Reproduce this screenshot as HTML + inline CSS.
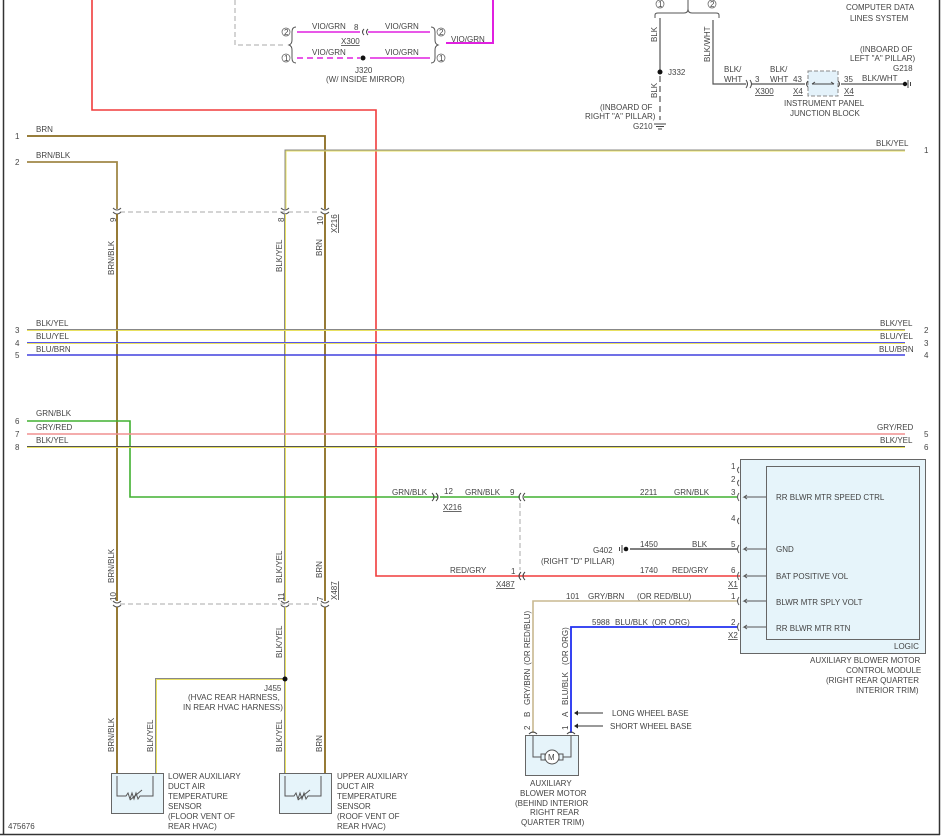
<!DOCTYPE html>
<html><head><meta charset="utf-8"><style>
html,body{margin:0;padding:0;background:#fff}
svg{display:block}
text{font-family:"Liberation Sans",sans-serif;font-size:8px;fill:#444}
</style></head><body>
<svg width="946" height="838" viewBox="0 0 946 838" xmlns="http://www.w3.org/2000/svg">
<rect width="946" height="838" fill="#fff"/>
<!-- borders -->
<line x1="3.5" y1="0" x2="3.5" y2="835" stroke="#333" stroke-width="1.5"/>
<line x1="0" y1="834.5" x2="940" y2="834.5" stroke="#333" stroke-width="1.5"/>
<line x1="939.5" y1="0" x2="939.5" y2="835" stroke="#333" stroke-width="1.5"/>

<!-- red wire -->
<polyline points="92,0 92,110 376,110 376,576 740,576" fill="none" stroke="#f03c3c" stroke-width="1.6"/>

<!-- magenta top -->
<polyline points="493,0 493,43 446,43" fill="none" stroke="#e020e0" stroke-width="2"/>
<line x1="297" y1="32" x2="360" y2="32" stroke="#e020e0" stroke-width="1.6"/>
<line x1="368" y1="32" x2="430" y2="32" stroke="#e020e0" stroke-width="1.6"/>
<line x1="297" y1="58" x2="360" y2="58" stroke="#e020e0" stroke-width="1.6" stroke-dasharray="6,4"/>
<line x1="370" y1="58" x2="430" y2="58" stroke="#e020e0" stroke-width="1.6"/>
<circle cx="363" cy="58" r="2.5" fill="#111"/>
<path d="M364,29 q-3,3 0,6 M368,29 q-3,3 0,6" fill="none" stroke="#444"/>
<polyline points="235,0 235,45 285,45" fill="none" stroke="#aaa" stroke-dasharray="5,3"/>
<path d="M296,27 q-4,0 -4,5 v8 q0,4 -3,5 q3,1 3,5 v8 q0,5 4,5" fill="none" stroke="#555"/>
<path d="M431,27 q4,0 4,5 v8 q0,4 3,5 q-3,1 -3,5 v8 q0,5 -4,5" fill="none" stroke="#555"/>
<circle cx="286" cy="32" r="4" fill="none" stroke="#555" stroke-width=".7"/><text x="284" y="35" font-size="7">2</text>
<circle cx="286" cy="58" r="4" fill="none" stroke="#555" stroke-width=".7"/><text x="284" y="61" font-size="7">1</text>
<circle cx="441" cy="32" r="4" fill="none" stroke="#555" stroke-width=".7"/><text x="439" y="35" font-size="7">2</text>
<circle cx="441" cy="58" r="4" fill="none" stroke="#555" stroke-width=".7"/><text x="439" y="61" font-size="7">1</text>
<text x="312" y="29">VIO/GRN</text><text x="385" y="29">VIO/GRN</text>
<text x="354" y="30" font-size="7">8</text>
<text x="341" y="44" text-decoration="underline">X300</text>
<text x="312" y="55">VIO/GRN</text><text x="385" y="55">VIO/GRN</text>
<text x="451" y="42">VIO/GRN</text>
<text x="355" y="73">J320</text>
<text x="326" y="82">(W/ INSIDE MIRROR)</text>

<!-- top right -->
<path d="M655,18 v-3 q0,-2 3,-2 h26 q4,0 4,-4 q0,4 4,4 h24 q3,0 3,2 v3" fill="none" stroke="#555"/>
<line x1="688" y1="0" x2="688" y2="9" stroke="#555"/>
<circle cx="660" cy="4" r="4" fill="none" stroke="#555" stroke-width=".7"/><text x="658" y="7" font-size="7">1</text>
<circle cx="712" cy="4" r="4" fill="none" stroke="#555" stroke-width=".7"/><text x="710" y="7" font-size="7">2</text>
<text x="846" y="10">COMPUTER DATA</text><text x="850" y="21">LINES SYSTEM</text>
<line x1="660" y1="18" x2="660" y2="72" stroke="#555" stroke-width="1.2"/>
<circle cx="660" cy="72" r="2.5" fill="#111"/>
<line x1="660" y1="76" x2="660" y2="120" stroke="#555" stroke-width="1.2" stroke-dasharray="6,4"/>
<text x="668" y="75">J332</text>
<text transform="translate(657,42) rotate(-90)">BLK</text>
<text transform="translate(657,98) rotate(-90)">BLK</text>
<text x="600" y="110">(INBOARD OF</text><text x="585" y="119">RIGHT "A" PILLAR)</text>
<text x="633" y="129">G210</text>
<path d="M654,124 h12 M656,126.5 h8 M658,129 h4" stroke="#444"/>
<polyline points="713,20 713,84 746,84" fill="none" stroke="#555" stroke-width="1.2"/>
<text transform="translate(710,62) rotate(-90)">BLK/WHT</text>
<text x="724" y="72">BLK/</text><text x="724" y="82">WHT</text>
<path d="M746,80 q3,4 0,8 M750,80 q3,4 0,8" fill="none" stroke="#444"/>
<text x="755" y="82">3</text><text x="770" y="72">BLK/</text><text x="770" y="82">WHT</text>
<text x="755" y="94" text-decoration="underline">X300</text>
<line x1="752" y1="84" x2="805" y2="84" stroke="#555" stroke-width="1.2"/>
<text x="793" y="82">43</text><text x="793" y="94" text-decoration="underline">X4</text>
<rect x="808" y="71" width="30" height="25" fill="#e4f2fa" stroke="#888" stroke-dasharray="4,2"/>
<path d="M808,81 q-3,3 0,6 M838,81 q3,3 0,6 M812,84 h22 M812,84 l3,-2 M834,84 l-3,-2" fill="none" stroke="#444"/>
<text x="844" y="82">35</text><text x="844" y="94" text-decoration="underline">X4</text>
<line x1="841" y1="84" x2="904" y2="84" stroke="#555" stroke-width="1.2"/>
<text x="862" y="81">BLK/WHT</text>
<circle cx="905" cy="84" r="2.2" fill="#111"/><path d="M908,80 v8 M910.5,82 v4" stroke="#444"/>
<text x="860" y="52">(INBOARD OF</text><text x="850" y="61">LEFT "A" PILLAR)</text><text x="893" y="71">G218</text>
<text x="784" y="106">INSTRUMENT PANEL</text><text x="790" y="116">JUNCTION BLOCK</text>

<!-- harness wires -->
<polyline points="27,136 325,136 325,209" fill="none" stroke="#8a6c20" stroke-width="1.8"/>
<polyline points="27,162 117,162 117,209" fill="none" stroke="#a08848" stroke-width="1.8"/>
<polyline points="285,209 285,150 905,150" fill="none" stroke="#888" stroke-width="1"/>
<polyline points="286,209 286,151 905,151" fill="none" stroke="#e8e060" stroke-width="1"/>
<text x="15" y="139">1</text><text x="36" y="132">BRN</text>
<text x="15" y="165">2</text><text x="36" y="158">BRN/BLK</text>
<text x="876" y="146">BLK/YEL</text><text x="924" y="153">1</text>
<!-- connectors X216 top -->
<line x1="120" y1="212" x2="322" y2="212" stroke="#aaa" stroke-dasharray="5,3"/>
<g fill="none" stroke="#555"><path d="M113,208 q4,4 8,0 M113,212 q4,4 8,0 M281,208 q4,4 8,0 M281,212 q4,4 8,0 M321,208 q4,4 8,0 M321,212 q4,4 8,0"/></g>
<text transform="translate(116,222) rotate(-90)" font-size="7">9</text>
<text transform="translate(284,222) rotate(-90)" font-size="7">8</text>
<text transform="translate(323,225) rotate(-90)" font-size="7">10</text>
<text transform="translate(337,233) rotate(-90)" text-decoration="underline">X216</text>
<!-- verticals -->
<line x1="117" y1="214" x2="117" y2="601" stroke="#8a6c20" stroke-width="1.8"/>
<line x1="325" y1="214" x2="325" y2="601" stroke="#8a6c20" stroke-width="1.8"/>
<line x1="284.5" y1="214" x2="284.5" y2="601" stroke="#888" stroke-width="1"/>
<line x1="285.5" y1="214" x2="285.5" y2="601" stroke="#e8e060" stroke-width="1"/>
<text transform="translate(114,275) rotate(-90)">BRN/BLK</text>
<text transform="translate(282,272) rotate(-90)">BLK/YEL</text>
<text transform="translate(322,256) rotate(-90)">BRN</text>

<!-- middle horizontals -->
<line x1="27" y1="329.5" x2="905" y2="329.5" stroke="#888"/><line x1="27" y1="330.5" x2="905" y2="330.5" stroke="#e8e060"/>
<line x1="27" y1="342.5" x2="905" y2="342.5" stroke="#5555ee"/><line x1="27" y1="343.5" x2="905" y2="343.5" stroke="#e8e060"/>
<line x1="27" y1="355" x2="905" y2="355" stroke="#4040dd" stroke-width="1.6"/>
<text x="15" y="333">3</text><text x="36" y="326">BLK/YEL</text>
<text x="15" y="346">4</text><text x="36" y="339">BLU/YEL</text>
<text x="15" y="358">5</text><text x="36" y="352">BLU/BRN</text>
<text x="880" y="326">BLK/YEL</text><text x="924" y="333">2</text>
<text x="880" y="339">BLU/YEL</text><text x="924" y="346">3</text>
<text x="879" y="352">BLU/BRN</text><text x="924" y="358">4</text>

<polyline points="27,421 130,421 130,497 438,497" fill="none" stroke="#40b030" stroke-width="1.6"/>
<line x1="27" y1="434" x2="905" y2="434" stroke="#f09090" stroke-width="1.6"/>
<line x1="27" y1="446.5" x2="905" y2="446.5" stroke="#555"/><line x1="27" y1="447.5" x2="905" y2="447.5" stroke="#e8e060"/>
<text x="15" y="424">6</text><text x="36" y="416">GRN/BLK</text>
<text x="15" y="437">7</text><text x="36" y="430">GRY/RED</text>
<text x="15" y="450">8</text><text x="36" y="443">BLK/YEL</text>
<text x="877" y="430">GRY/RED</text><text x="924" y="437">5</text>
<text x="880" y="443">BLK/YEL</text><text x="924" y="450">6</text>

<!-- X216 / X487 -->
<text x="392" y="495">GRN/BLK</text>
<path d="M432,493 q4,4 0,8 M436,493 q4,4 0,8" fill="none" stroke="#444"/>
<text x="444" y="494" font-size="7">12</text>
<text x="443" y="510" text-decoration="underline">X216</text>
<line x1="440" y1="497" x2="520" y2="497" stroke="#40b030" stroke-width="1.6"/>
<text x="465" y="495">GRN/BLK</text><text x="510" y="495" font-size="7">9</text>
<path d="M521,493 q-4,4 0,8 M525,493 q-4,4 0,8" fill="none" stroke="#444"/>
<line x1="524" y1="497" x2="737" y2="497" stroke="#40b030" stroke-width="1.6"/>
<text x="640" y="495">2211</text><text x="674" y="495">GRN/BLK</text><text x="731" y="495" font-size="7">3</text>
<line x1="520" y1="503" x2="520" y2="570" stroke="#aaa" stroke-dasharray="5,3"/>
<text x="450" y="573">RED/GRY</text><text x="511" y="574" font-size="7">1</text>
<path d="M521,572 q-4,4 0,8 M525,572 q-4,4 0,8" fill="none" stroke="#444"/>
<text x="496" y="587" text-decoration="underline">X487</text>
<text x="640" y="573">1740</text><text x="672" y="573">RED/GRY</text><text x="731" y="573" font-size="7">6</text>
<text x="728" y="587" text-decoration="underline">X1</text>
<!-- G402 -->
<circle cx="626" cy="549" r="2.3" fill="#111"/><path d="M622,545 v8 M619.5,547 v4" stroke="#444"/>
<line x1="630" y1="549" x2="738" y2="549" stroke="#555" stroke-width="1.4"/>
<text x="593" y="553">G402</text><text x="541" y="564">(RIGHT "D" PILLAR)</text>
<text x="640" y="547">1450</text><text x="692" y="547">BLK</text><text x="731" y="547" font-size="7">5</text>
<!-- GRY/BRN BLU/BLK -->
<polyline points="533,733 533,601 738,601" fill="none" stroke="#c8b890" stroke-width="1.6"/>
<polyline points="571,733 571,627 738,627" fill="none" stroke="#2030f0" stroke-width="1.8"/>
<text x="566" y="599">101</text><text x="588" y="599">GRY/BRN</text><text x="637" y="599">(OR RED/BLU)</text><text x="731" y="599" font-size="7">1</text>
<text x="592" y="625">5988</text><text x="615" y="625">BLU/BLK</text><text x="652" y="625">(OR ORG)</text><text x="731" y="625" font-size="7">2</text>
<text x="728" y="638" text-decoration="underline">X2</text>
<text transform="translate(530,665) rotate(-90)">(OR RED/BLU)</text>
<text transform="translate(530,705) rotate(-90)">GRY/BRN</text>
<text transform="translate(568,665) rotate(-90)">(OR ORG)</text>
<text transform="translate(568,705) rotate(-90)">BLU/BLK</text>
<text transform="translate(530,717) rotate(-90)" font-size="7">B</text>
<text transform="translate(530,730) rotate(-90)" font-size="7">2</text>
<text transform="translate(568,717) rotate(-90)" font-size="7">A</text>
<text transform="translate(568,730) rotate(-90)" font-size="7">1</text>
<path d="M574,713 l4,-2.5 v5z M574,726 l4,-2.5 v5z" fill="#222"/>
<line x1="578" y1="713" x2="603" y2="713" stroke="#333"/><line x1="578" y1="726" x2="603" y2="726" stroke="#333"/>
<text x="612" y="716">LONG WHEEL BASE</text><text x="610" y="729">SHORT WHEEL BASE</text>

<!-- module -->
<rect x="740.5" y="459.5" width="185" height="194" fill="#e6f4fa" stroke="#666"/>
<rect x="766.5" y="466.5" width="153" height="173" fill="#e6f4fa" stroke="#666"/>
<g fill="none" stroke="#555">
<path d="M739,467 q-3,3 0,6 M739,480 q-3,3 0,6 M739,518 q-3,3 0,6"/>
<path d="M739,493 q-3,4 0,8 M739,545 q-3,4 0,8 M739,572 q-3,4 0,8 M739,597 q-3,4 0,8 M739,623 q-3,4 0,8"/>
<path d="M766,497 h-22 l3,-2 M744,497 l3,2 M766,549 h-22 l3,-2 M744,549 l3,2 M766,576 h-22 l3,-2 M744,576 l3,2 M766,601 h-22 l3,-2 M744,601 l3,2 M766,627 h-22 l3,-2 M744,627 l3,2"/>
</g>
<text x="731" y="469" font-size="7">1</text><text x="731" y="482" font-size="7">2</text><text x="731" y="521" font-size="7">4</text>
<text x="776" y="500">RR BLWR MTR SPEED CTRL</text>
<text x="776" y="552">GND</text>
<text x="776" y="579">BAT POSITIVE VOL</text>
<text x="776" y="605">BLWR MTR SPLY VOLT</text>
<text x="776" y="631">RR BLWR MTR RTN</text>
<text x="894" y="649">LOGIC</text>
<text x="810" y="663">AUXILIARY BLOWER MOTOR</text>
<text x="846" y="673">CONTROL MODULE</text>
<text x="826" y="683">(RIGHT REAR QUARTER</text>
<text x="856" y="693">INTERIOR TRIM)</text>

<!-- motor -->
<rect x="525.5" y="735.5" width="53" height="40" fill="#e6f4fa" stroke="#666"/>
<path d="M529,734 q4,-4 8,0 M567,734 q4,-4 8,0" fill="none" stroke="#444"/>
<polyline points="533,736 533,757 541,757" fill="none" stroke="#555"/>
<polyline points="571,736 571,757 563,757" fill="none" stroke="#555"/>
<rect x="541" y="754" width="4" height="6" fill="none" stroke="#555"/><rect x="559" y="754" width="4" height="6" fill="none" stroke="#555"/>
<circle cx="552" cy="757" r="7" fill="#fff" stroke="#555"/><text x="548" y="760" font-size="8">M</text>
<text x="530" y="786">AUXILIARY</text><text x="520" y="796">BLOWER MOTOR</text><text x="515" y="806">(BEHIND INTERIOR</text>
<text x="530" y="815">RIGHT REAR</text><text x="521" y="825">QUARTER TRIM)</text>

<!-- lower X487 -->
<line x1="120" y1="604" x2="322" y2="604" stroke="#aaa" stroke-dasharray="5,3"/>
<g fill="none" stroke="#555"><path d="M113,601 q4,4 8,0 M113,605 q4,4 8,0 M281,601 q4,4 8,0 M281,605 q4,4 8,0 M321,601 q4,4 8,0 M321,605 q4,4 8,0"/></g>
<text transform="translate(116,601) rotate(-90)" font-size="7">10</text>
<text transform="translate(284,601) rotate(-90)" font-size="7">11</text>
<text transform="translate(323,601) rotate(-90)" font-size="7">7</text>
<text transform="translate(337,600) rotate(-90)" text-decoration="underline">X487</text>
<text transform="translate(114,583) rotate(-90)">BRN/BLK</text>
<text transform="translate(282,583) rotate(-90)">BLK/YEL</text>
<text transform="translate(322,578) rotate(-90)">BRN</text>
<line x1="117" y1="607" x2="117" y2="776" stroke="#8a6c20" stroke-width="1.8"/>
<line x1="325" y1="607" x2="325" y2="776" stroke="#8a6c20" stroke-width="1.8"/>
<line x1="284.5" y1="607" x2="284.5" y2="776" stroke="#888"/><line x1="285.5" y1="607" x2="285.5" y2="776" stroke="#e8e060"/>
<polyline points="284,678.5 155.5,678.5 155.5,776" fill="none" stroke="#888"/>
<polyline points="284,679.5 156.5,679.5 156.5,776" fill="none" stroke="#e8e060"/>
<circle cx="285" cy="679" r="2.5" fill="#111"/>
<text transform="translate(282,658) rotate(-90)">BLK/YEL</text>
<text x="264" y="691">J455</text>
<text x="188" y="700">(HVAC REAR HARNESS,</text>
<text x="183" y="710">IN REAR HVAC HARNESS)</text>
<text transform="translate(114,752) rotate(-90)">BRN/BLK</text>
<text transform="translate(153,752) rotate(-90)">BLK/YEL</text>
<text transform="translate(282,752) rotate(-90)">BLK/YEL</text>
<text transform="translate(322,752) rotate(-90)">BRN</text>

<!-- sensors -->
<rect x="111.5" y="773.5" width="52" height="40" fill="#e6f4fa" stroke="#666"/>
<rect x="279.5" y="773.5" width="52" height="40" fill="#e6f4fa" stroke="#666"/>
<g fill="none" stroke="#555">
<path d="M117,776 v20 h9 l2,-3 2,6 2,-6 2,6 2,-6 2,6 2,-3 h13 v-20"/>
<path d="M285,776 v20 h9 l2,-3 2,6 2,-6 2,6 2,-6 2,6 2,-3 h13 v-20"/>
<path d="M130,800 l12,-10 M298,800 l12,-10"/>
</g>
<text x="168" y="779">LOWER AUXILIARY</text><text x="168" y="789">DUCT AIR</text><text x="168" y="799">TEMPERATURE</text>
<text x="168" y="809">SENSOR</text><text x="168" y="819">(FLOOR VENT OF</text><text x="168" y="829">REAR HVAC)</text>
<text x="337" y="779">UPPER AUXILIARY</text><text x="337" y="789">DUCT AIR</text><text x="337" y="799">TEMPERATURE</text>
<text x="337" y="809">SENSOR</text><text x="337" y="819">(ROOF VENT OF</text><text x="337" y="829">REAR HVAC)</text>
<text x="8" y="829">475676</text>
</svg>
</body></html>
